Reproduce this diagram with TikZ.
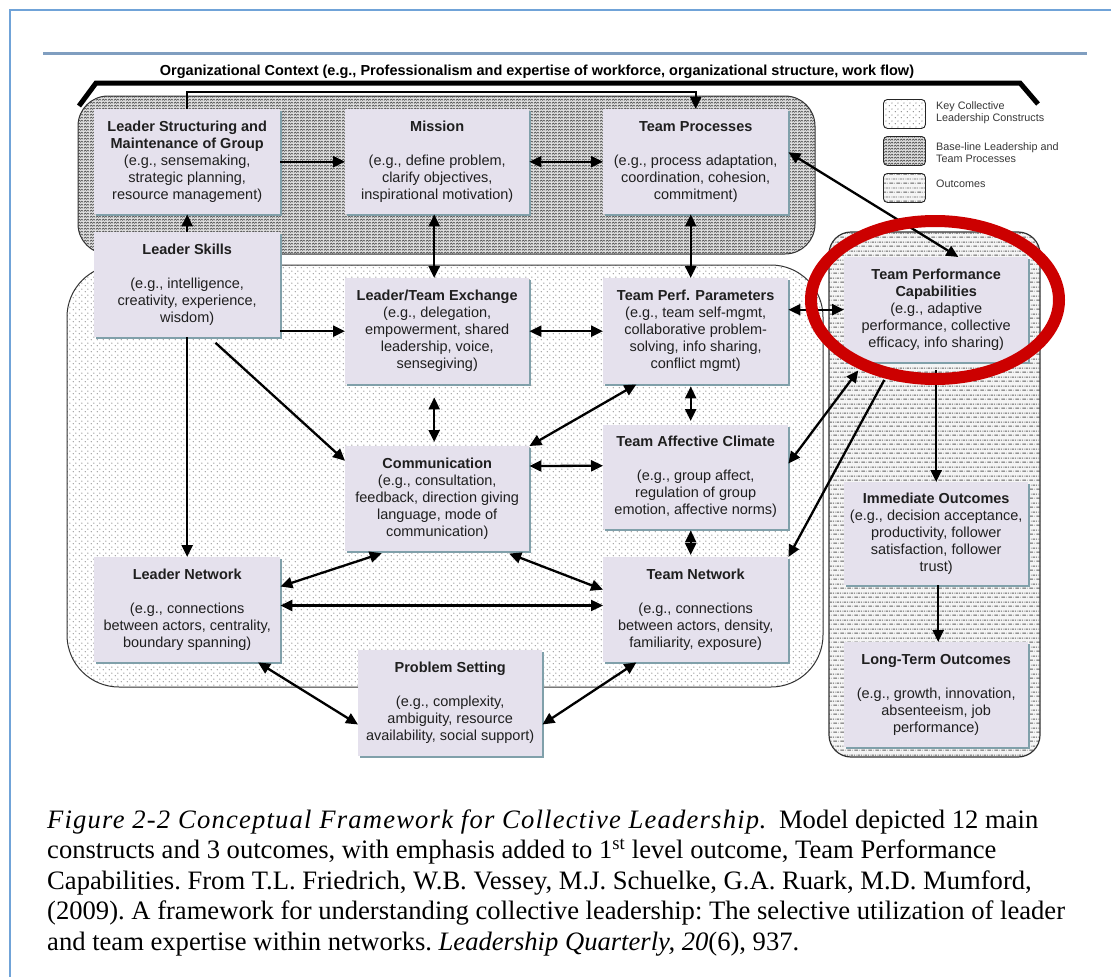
\documentclass[tikz,border=0pt]{standalone}
\usepackage{fontspec}
\setmainfont{Liberation Serif}
\setsansfont{Liberation Sans}
\newfontfamily\diagfont{Liberation Sans}
\usetikzlibrary{arrows.meta,calc,shadows,patterns.meta}

\definecolor{boxfill}{RGB}{229,225,237}
\definecolor{boxedge}{RGB}{128,160,170}
\definecolor{hilite}{RGB}{204,0,0}
\definecolor{framecol}{RGB}{112,163,216}
\definecolor{rulecol}{RGB}{128,158,192}
\definecolor{legtextcol}{RGB}{55,55,55}

% fill patterns of the three kinds of region
\tikzdeclarepattern{
  name=keydots, type=uncolored,
  bottom left={(0pt,0pt)}, top right={(6pt,6pt)}, tile size={(6pt,6pt)},
  code={
    \fill (1.5pt,1.5pt) circle [radius=0.75pt];
    \fill (4.5pt,4.5pt) circle [radius=0.75pt];
  }
}
\tikzdeclarepattern{
  name=wavy, type=uncolored,
  bottom left={(0pt,0pt)}, top right={(6pt,3.2pt)}, tile size={(6pt,3.2pt)},
  code={
    \draw[line width=0.7pt] (0pt,0.8pt) -- (1.5pt,2.4pt) -- (3pt,0.8pt) -- (4.5pt,2.4pt) -- (6pt,0.8pt);
  }
}
\tikzdeclarepattern{
  name=dashrows, type=uncolored,
  bottom left={(0pt,0pt)}, top right={(7pt,9pt)}, tile size={(7pt,9pt)},
  code={
    \draw[line width=1pt] (0.5pt,2pt) -- (4.5pt,2pt);
    \draw[line width=1pt] (4pt,6.5pt) -- (7pt,6.5pt);
    \draw[line width=1pt] (0pt,6.5pt) -- (1pt,6.5pt);
    \fill (6pt,2pt) circle [radius=0.5pt];
    \fill (2.5pt,6.5pt) circle [radius=0.5pt];
  }
}

\newcommand\boxfont{\diagfont\fontsize{14.5}{17}\selectfont}
\newcommand\captfont{\rmfamily\fontsize{26.6}{30.4}\selectfont\frenchspacing}

\begin{document}
\begin{tikzpicture}[x=1pt,y=-1pt,
  box/.style={anchor=north west, inner sep=0pt, align=center, font=\boxfont,
    text=black!88, fill=boxfill,
    drop shadow={shadow xshift=1.6pt, shadow yshift=-1.6pt, fill=boxedge, opacity=1}},
  tip/.tip={Triangle[length=12pt,width=11pt]},
  arr/.style={line width=2.3pt, -tip},
  darr/.style={line width=2.3pt, tip-tip},
  legbox/.style={anchor=north west, draw=black!85, line width=0.9pt, rounded corners=4pt,
    minimum width=42pt, minimum height=29pt, inner sep=0pt},
  legtext/.style={anchor=west, align=left, inner sep=0pt, text=legtextcol,
    font=\diagfont\fontsize{10.8}{12}\selectfont},
  basefill/.style={preaction={fill=gray!24}, pattern=wavy, pattern color=black!70},
  keyfill/.style={preaction={fill=white}, pattern=keydots, pattern color=black!45},
  outfill/.style={preaction={fill=gray!8}, pattern=dashrows, pattern color=black!62}
]
\useasboundingbox (0,0) rectangle (1111,977);
\fill[white] (0,0) rectangle (1111,977);

% page frame and header rule
\draw[framecol, line width=2.5pt] (10,990) -- (10,10) -- (1120,10);
\draw[rulecol, line width=3pt] (43,53) -- (1087,53);

% organizational context bracket
\node[font=\diagfont\bfseries\fontsize{14.5}{17}\selectfont, inner sep=0pt] (ctx) at (537,72)
  {Organizational Context (e.g., Professionalism and expertise of workforce, organizational structure, work flow)};
\draw[line width=5pt] (79,106) -- (96,83) -- (1020,83) -- (1038,104);

% regions
\path[draw=black!80, line width=1pt, rounded corners=30pt, basefill] (78,96) rectangle (815,254);
\path[draw=black!80, line width=1pt, rounded corners=52pt, keyfill] (67,265) rectangle (823,687);
\path[draw=black!80, line width=1.2pt, rounded corners=22pt, outfill] (829,232) rectangle (1040,757);

% legend
\node[legbox, keyfill] (lgkey) at (883,99) {};
\node[legbox, basefill] (lgbase) at (883,136) {};
\node[legbox, outfill] (lgout) at (883,173) {};
\node[legtext] (lgkeyt) at (936,113) {Key Collective\\Leadership Constructs};
\node[legtext] (lgbaset) at (936,153) {Base-line Leadership and\\Team Processes};
\node[legtext] (lgoutt) at (936,184) {Outcomes};

% constructs
\node[box, minimum width=186pt, minimum height=105pt] (lsm) at (94,109)
  {\textbf{Leader Structuring and}\\\textbf{Maintenance of Group}\\(e.g., sensemaking,\\strategic planning,\\resource management)};
\node[box, minimum width=184pt, minimum height=105pt] (mis) at (345,109)
  {\textbf{Mission}\\[17pt](e.g., define problem,\\clarify objectives,\\inspirational motivation)};
\node[box, minimum width=185pt, minimum height=105pt] (tp) at (603,109)
  {\textbf{Team Processes}\\[17pt](e.g., process adaptation,\\coordination, cohesion,\\commitment)};
\node[box, minimum width=186pt, minimum height=105pt] (ls) at (94,232)
  {\textbf{Leader Skills}\\[17pt](e.g., intelligence,\\creativity, experience,\\wisdom)};
\node[box, minimum width=184pt, minimum height=106pt] (lte) at (345,278)
  {\textbf{Leader/Team Exchange}\\(e.g., delegation,\\empowerment, shared\\leadership, voice,\\sensegiving)};
\node[box, minimum width=185pt, minimum height=106pt] (tpp) at (603,278)
  {\textbf{Team Perf. Parameters}\\(e.g., team self-mgmt,\\collaborative problem-\\solving, info sharing,\\conflict mgmt)};
\node[box, minimum width=184pt, minimum height=105pt] (tpc) at (844,257)
  {\textbf{Team Performance}\\\textbf{Capabilities}\\(e.g., adaptive\\performance, collective\\efficacy, info sharing)};
\node[box, minimum width=184pt, minimum height=105pt] (comm) at (345,446)
  {\textbf{Communication}\\(e.g., consultation,\\feedback, direction giving\\language, mode of\\communication)};
\node[box, minimum width=185pt, minimum height=104pt] (tac) at (603,425)
  {\textbf{Team Affective Climate}\\[17pt](e.g., group affect,\\regulation of group\\emotion, affective norms)};
\node[box, minimum width=184pt, minimum height=103pt] (io) at (844,482)
  {\textbf{Immediate Outcomes}\\(e.g., decision acceptance,\\productivity, follower\\satisfaction, follower\\trust)};
\node[box, minimum width=186pt, minimum height=105pt] (ln) at (94,557)
  {\textbf{Leader Network}\\[17pt](e.g., connections\\between actors, centrality,\\boundary spanning)};
\node[box, minimum width=185pt, minimum height=105pt] (tn) at (603,557)
  {\textbf{Team Network}\\[17pt](e.g., connections\\between actors, density,\\familiarity, exposure)};
\node[box, minimum width=184pt, minimum height=106pt] (ps) at (358,650)
  {\textbf{Problem Setting}\\[17pt](e.g., complexity,\\ambiguity, resource\\availability, social support)};
\node[box, minimum width=184pt, minimum height=105pt] (lt) at (844,642)
  {\textbf{Long-Term Outcomes}\\[17pt](e.g., growth, innovation,\\absenteeism, job\\performance)};

% connectors
\draw[arr, line width=2pt] (lsm.north) -- ++(0,-17) -| (tp.north);
\draw[arr] (ls.north) -- (lsm.south);
\draw[arr] (lsm.east) -- (mis.west);
\draw[darr] (mis.east) -- (tp.west);
\draw[darr] ($(mis.south)+(-3,0)$) -- ($(lte.north)+(-3,0)$);
\draw[darr] ($(tp.south)+(-5,0)$) -- ($(tpp.north)+(-5,0)$);
\draw[darr] ($(tp.north east)!0.41!(tp.south east)$) -- ($(tpc.north west)!0.62!(tpc.north east)$);
\draw[arr] (ls.east |- lte.west) -- (lte.west);
\draw[darr] (lte.east) -- (tpp.west);
\draw[darr] (tpp.east |- tpc.west) -- (tpc.west);
\draw[arr, shorten <=8pt] ($(ls.south west)!0.62!(ls.south east)$) -- ($(comm.north west)!0.14!(comm.south west)$);
\draw[arr] (ls.south) -- (ln.north);
\draw[darr, shorten <=13pt, shorten >=4pt] ($(lte.south)+(-3,0)$) -- ($(comm.north)+(-3,0)$);
\draw[darr] ($(tpp.south west)!0.18!(tpp.south east)$) -- (comm.north east);
\draw[darr, shorten <=2pt, shorten >=4pt] ($(tpp.south)+(-5,0)$) -- ($(tac.north)+(-5,0)$);
\draw[darr] ($(comm.north east)!0.19!(comm.south east)$) -- ($(tac.north west)!0.39!(tac.south west)$);
\draw[darr, shorten >=10pt] ($(tac.north east)!0.37!(tac.south east)$) -- ($(tpc.south west)!0.11!(tpc.south east)$);
\draw[arr, shorten <=20pt] ($(tpc.south west)!0.27!(tpc.south east)$) -- (tn.north east);
\draw[arr, shorten <=8pt] (tpc.south) -- (io.north);
\draw[arr] ($(io.south)+(2,0)$) -- ($(lt.north)+(2,0)$);
\draw[darr, shorten <=1pt, shorten >=2pt] ($(tac.south)+(-5,0)$) -- ($(tn.north)+(-5,0)$);
\draw[darr, shorten <=6pt] ($(comm.south west)!0.23!(comm.south east)$) -- ($(ln.north east)!0.28!(ln.south east)$);
\draw[darr, shorten <=6pt] ($(comm.south west)!0.86!(comm.south east)$) -- ($(tn.north west)!0.31!(tn.south west)$);
\draw[darr] ($(ln.north east)!0.46!(ln.south east)$) -- ($(tn.north west)!0.46!(tn.south west)$);
\draw[darr] ($(ln.south west)!0.88!(ln.south east)$) -- ($(ps.north west)!0.70!(ps.south west)$);
\draw[darr] ($(tn.south west)!0.18!(tn.south east)$) -- ($(ps.north east)!0.70!(ps.south east)$);

% emphasis ring
\draw[hilite, line width=12pt] (935,300) ellipse [x radius=124, y radius=79];

% caption (anchored on the baseline of its last line)
\node[anchor=base west, align=left, inner sep=0pt, font=\captfont] (cap) at (47,950)
  {\textit{\addfontfeature{LetterSpace=4.5}Figure 2-2 Conceptual Framework for Collective Leadership}.\ \ Model depicted 12 main\\
   constructs and 3 outcomes, with emphasis added to 1\textsuperscript{st} level outcome, Team Performance\\
   Capabilities. From T.L. Friedrich, W.B. Vessey, M.J. Schuelke, G.A. Ruark, M.D. Mumford,\\
   (2009). A framework for understanding collective leadership: The selective utilization of leader\\
   and team expertise within networks. \textit{Leadership Quarterly, 20}(6), 937.};
\end{tikzpicture}
\end{document}
